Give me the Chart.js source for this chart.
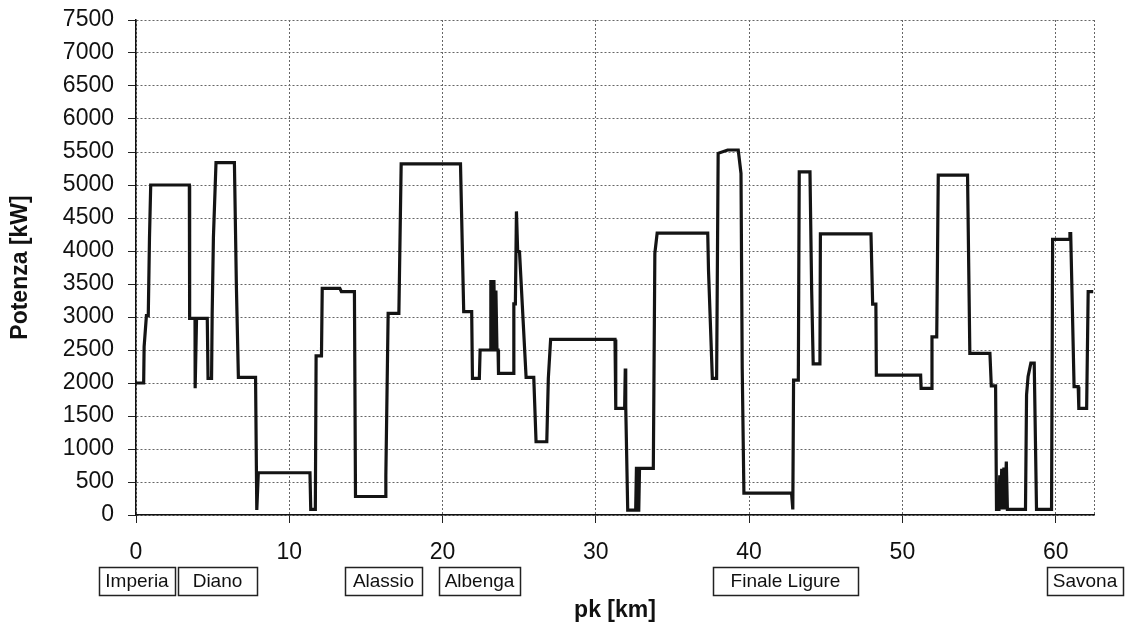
<!DOCTYPE html>
<html>
<head>
<meta charset="utf-8">
<script src="https://cdn.jsdelivr.net/npm/chart.js@4"></script>
<style>
  html, body { margin: 0; padding: 0; background: #fff; }
  #wrap { width: 1130px; height: 626px; }
</style>
</head>
<body>
<div id="wrap"><canvas id="potChart"></canvas></div>
<script>
// pk [km] of each corner of the power profile
const pkKm = [
  0, 0.5, 0.53, 0.68, 0.8, 0.88, 0.96, 3.48, 3.5, 3.85, 3.86, 3.95, 4.65, 4.7, 4.93, 4.97, 5.05, 5.22, 6.42, 6.55, 6.68,
  7.8, 7.88, 7.98, 8.05, 11.35, 11.4, 11.7, 11.75, 12.1, 12.15, 13.3, 13.4, 14.25, 14.32, 16.25, 16.3, 16.45, 17.15, 17.3,
  21.17, 21.38, 21.9, 21.95, 22.4, 22.45, 23.1, 23.15, 23.2, 23.25, 23.3, 23.35, 23.42, 23.48, 23.55, 23.62, 23.65,
  24.6, 24.65, 24.75, 24.82, 24.9, 25.02, 25.45, 25.95, 26.1, 26.8, 26.9, 27.05, 31.25, 31.3, 31.88, 31.92, 31.95, 32.08,
  32.6, 32.65, 32.7, 32.8, 32.85, 33.75, 33.85, 34.0, 37.3, 37.35, 37.6, 37.88, 37.98, 38.6, 39.29, 39.47, 39.55, 39.66,
  42.77, 42.85, 42.9, 43.21, 43.27, 43.97, 44.08, 44.18, 44.62, 44.65, 47.95, 48.06, 48.27, 48.3, 51.19, 51.22, 51.9,
  51.93, 52.24, 52.34, 54.25, 54.4, 55.71, 55.8, 56.08, 56.14, 56.3, 56.35, 56.4, 56.48, 56.55, 56.62, 56.68, 56.78,
  56.85, 58.03, 58.1, 58.2, 58.38, 58.6, 58.75, 59.73, 59.8, 60.87, 60.93, 60.98, 61.2, 61.47, 61.51, 62.02, 62.12, 62.45
];
// Potenza [kW] at each corner
const potenzaKw = [
  2000, 2000, 2550, 3020, 3020, 4200, 5000, 5000, 2980, 2980, 1920, 2980, 2980, 2070, 2070, 3050, 4200, 5340, 5340, 3460, 2085,
  2085, 75, 640, 640, 640, 85, 85, 2410, 2410, 3435, 3435, 3385, 3385, 280, 280, 600, 3055, 3055, 5320,
  5320, 3080, 3080, 2070, 2070, 2500, 2500, 3560, 2500, 3560, 2500, 3560, 2550, 3400, 2500, 2500, 2145,
  2145, 3200, 3200, 4600, 4000, 3990, 2085, 2085, 1110, 1110, 2070, 2660, 2660, 1615, 1615, 2220, 1650, 75,
  75, 730, 75, 75, 705, 705, 3965, 4270, 4270, 3710, 2070, 2070, 5480, 5530, 5530, 5175, 2220, 330,
  330, 85, 2045, 2045, 5200, 5200, 3410, 2290, 2290, 4260, 4260, 3195, 3195, 2120, 2120, 1920, 1920,
  2700, 2700, 5150, 5150, 2450, 2450, 1955, 1955, 85, 85, 600, 85, 700, 85, 720, 85, 810,
  85, 85, 1820, 2100, 2300, 2300, 85, 85, 4175, 4175, 4265, 4265, 1945, 1945, 1615, 1615, 3385, 3385
];
const xTicks = [0, 10, 20, 30, 40, 50, 60];
const yTicks = [0, 500, 1000, 1500, 2000, 2500, 3000, 3500, 4000, 4500, 5000, 5500, 6000, 6500, 7000, 7500];

// town name boxes under the axis, as km span
const towns = ['Imperia', 'Diano', 'Alassio', 'Albenga', 'Finale Ligure', 'Savona'];
const townFrom = [-2.41, 2.74, 13.63, 19.77, 37.64, 59.43];
const townTo = [2.54, 7.89, 18.66, 25.05, 47.1, 64.38];

const FONT = '"Liberation Sans", Arial, Helvetica, sans-serif';

const extras = {
    id: 'extras',
    beforeDatasetsDraw(chart) {
        const { ctx, chartArea: a } = chart;
        // right edge of the plot, dotted like the grid
        ctx.save();
        ctx.strokeStyle = '#666';
        ctx.lineWidth = 1;
        ctx.setLineDash([2, 2]);
        ctx.beginPath();
        ctx.moveTo(Math.round(a.right) + 0.5, a.top);
        ctx.lineTo(Math.round(a.right) + 0.5, a.bottom);
        ctx.stroke();
        ctx.restore();
    },
    afterDraw(chart) {
        const { ctx, scales: { x } } = chart;
        ctx.save();
        ctx.font = '19px ' + FONT;
        ctx.textAlign = 'center';
        ctx.textBaseline = 'middle';
        towns.forEach((name, i) => {
            const l = Math.round(x.getPixelForValue(townFrom[i]));
            const r = Math.round(x.getPixelForValue(townTo[i]));
            ctx.strokeStyle = '#222';
            ctx.lineWidth = 1.5;
            ctx.strokeRect(l + 0.5, 567.5, r - l, 28);
            ctx.fillStyle = '#111';
            ctx.fillText(name, (l + r) / 2, 582);
        });
        ctx.restore();
    }
};

const ctx = document.getElementById('potChart').getContext('2d');

new Chart(ctx, {
    type: 'line',
    data: {
        datasets: [{
            label: 'Potenza',
            data: pkKm.map((km, i) => ({ x: km, y: potenzaKw[i] })),
            borderColor: '#141414',
            borderWidth: 3.2,
            pointRadius: 0,
            tension: 0,
            fill: false
        }]
    },
    options: {
        responsive: true,
        maintainAspectRatio: false,
        animation: false,
        layout: { padding: { top: 20, right: 36, bottom: 0, left: 0 } },
        plugins: {
            legend: { display: false },
            tooltip: { enabled: false }
        },
        scales: {
            x: {
                type: 'linear',
                min: 0,
                max: 62.5,
                afterBuildTicks: (s) => { s.ticks = xTicks.map(v => ({ value: v })); },
                afterFit: (s) => { s.height = 111; s.paddingLeft = 0; s.paddingRight = 0; },
                ticks: {
                    color: '#111',
                    padding: 16,
                    maxRotation: 0,
                    callback: (v) => String(v),
                    font: { family: FONT, size: 23 }
                },
                grid: {
                    color: '#666',
                    lineWidth: 1,
                    tickLength: 8,
                    tickColor: '#222',
                    tickBorderDash: []
                },
                border: { display: true, color: '#111', width: 1.5, dash: [2, 2] },
                title: {
                    display: true,
                    text: 'pk [km]',
                    color: '#111',
                    padding: { top: 0, bottom: 2 },
                    font: { family: FONT, size: 23, weight: 'bold' }
                }
            },
            y: {
                min: 0,
                max: 7500,
                afterBuildTicks: (s) => { s.ticks = yTicks.map(v => ({ value: v })); },
                afterFit: (s) => { s.width = 136; s.paddingTop = 0; s.paddingBottom = 0; },
                ticks: {
                    color: '#111',
                    padding: 14,
                    callback: (v) => String(v),
                    font: { family: FONT, size: 23 }
                },
                grid: {
                    color: '#666',
                    lineWidth: 1,
                    tickLength: 8,
                    tickColor: '#222',
                    tickBorderDash: []
                },
                border: { display: true, color: '#111', width: 1.5, dash: [2, 2] },
                title: {
                    display: true,
                    text: 'Potenza [kW]',
                    color: '#111',
                    padding: { top: 7, bottom: 0 },
                    font: { family: FONT, size: 23, weight: 'bold' }
                }
            }
        }
    },
    plugins: [extras]
});
</script>
</body>
</html>
